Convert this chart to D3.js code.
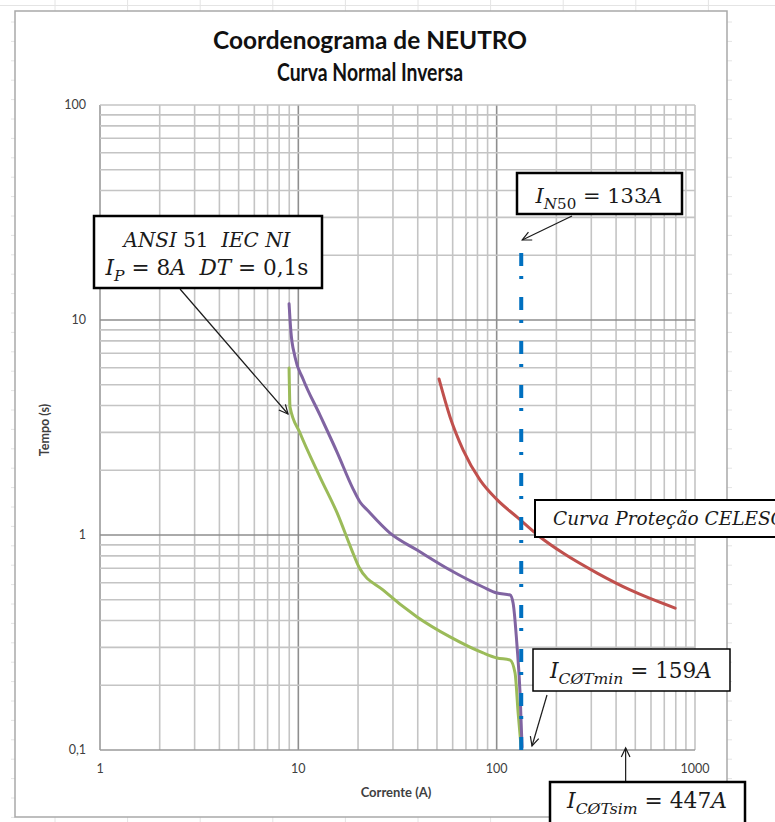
<!DOCTYPE html>
<html>
<head>
<meta charset="utf-8">
<script src="https://cdn.jsdelivr.net/npm/d3@7"></script>
<style>
  html, body { margin: 0; padding: 0; background: #fff; }
  svg { display: block; }
</style>
</head>
<body>
<script>
// ---- Axis ticks -------------------------------------------------------
const currentTicks = [1, 10, 100, 1000];
const currentTickLabels = ["1", "10", "100", "1000"];
const timeTicks = [0.1, 1, 10, 100];
const timeTickLabels = ["0,1", "1", "10", "100"];

// ---- Neutral relay, ANSI 51 IEC NI (upper curve) ----------------------
const relayUpperCurrent = [8.98, 9.16, 9.62, 10.56, 12.86, 15.67, 18.87, 20.5, 22.2, 29.0, 39.7, 58.2, 85.4, 100.4, 116.9, 121, 126.8, 131.2, 134.3];
const relayUpperTime    = [11.9, 8.98, 6.73, 5.32, 3.61, 2.43, 1.64, 1.42, 1.31, 1.02, 0.851, 0.687, 0.573, 0.537, 0.526, 0.483, 0.301, 0.184, 0.103];

// ---- Neutral relay, ANSI 51 IEC NI (lower curve) ----------------------
const relayLowerCurrent = [8.98, 9.08, 10.2, 12.86, 15.67, 18.6, 20.2, 26.7, 39.7, 58.2, 85.4, 100.4, 116.9, 123.8, 128.3, 132.8];
const relayLowerTime    = [5.98, 3.94, 2.98, 1.86, 1.27, 0.851, 0.710, 0.555, 0.416, 0.336, 0.283, 0.268, 0.262, 0.228, 0.149, 0.103];

// ---- Utility (CELESC) protection curve --------------------------------
const celescCurrent = [51.2, 58.2, 67.7, 82.5, 100.4, 126.8, 165.5, 216, 321, 471, 794];
const celescTime    = [5.32, 3.54, 2.49, 1.80, 1.46, 1.21, 0.979, 0.824, 0.665, 0.555, 0.457];

// ---- Neutral instantaneous pickup and fault levels --------------------
const neutralPickup = 133;              // A
const neutralPickupSpan = [20.5, 0.09]; // s, extent of the vertical marker
const faultMinCurrent = 159;            // A
const faultSymCurrent = 447;            // A

// ---- Layout ------------------------------------------------------------
const W = 775, H = 822;
const plot = { left: 100, right: 695, top: 105, bottom: 750 };

const svg = d3.select("body").append("svg")
  .attr("width", W).attr("height", H)
  .attr("viewBox", `0 0 ${W} ${H}`);

svg.append("rect").attr("width", W).attr("height", H).attr("fill", "#fff");

// faint worksheet cell lines around the chart object
const sheet = svg.append("g").attr("stroke", "#e4e4e4").attr("stroke-width", 1);
sheet.append("line").attr("x1", 0).attr("x2", W).attr("y1", 5.5).attr("y2", 5.5);
d3.range(55, W, 72.6).forEach(x => {
  sheet.append("line").attr("x1", x).attr("x2", x).attr("y1", 0).attr("y2", 11);
  sheet.append("line").attr("x1", x).attr("x2", x).attr("y1", 817).attr("y2", 822);
});
d3.range(22, H, 19.4).forEach(y => {
  sheet.append("line").attr("x1", 11).attr("x2", 15).attr("y1", y).attr("y2", y);
  sheet.append("line").attr("x1", 727).attr("x2", 732).attr("y1", y).attr("y2", y);
});

// chart frame
svg.append("rect")
  .attr("x", 15).attr("y", 11).attr("width", 712).attr("height", 806)
  .attr("fill", "#fff").attr("stroke", "#a9a9a9").attr("stroke-width", 1.5);

// ---- Scales ------------------------------------------------------------
const x = d3.scaleLog().domain([1, 1000]).range([plot.left, plot.right]);
const y = d3.scaleLog().domain([0.1, 100]).range([plot.bottom, plot.top]);

// ---- Grid --------------------------------------------------------------
const xGridValues = [];
[1, 10, 100].forEach(d => d3.range(1, 10).forEach(m => xGridValues.push(d * m)));
xGridValues.push(1000);
const yGridValues = [];
[0.1, 1, 10].forEach(d => d3.range(1, 10).forEach(m => yGridValues.push(+(d * m).toPrecision(3))));
yGridValues.push(100);

const isDecade = v => Math.abs(Math.log10(v) - Math.round(Math.log10(v))) < 1e-9;

const grid = svg.append("g").attr("stroke-width", 1.6).attr("fill", "none");
grid.selectAll(".gx").data(xGridValues).join("line")
  .attr("x1", d => x(d)).attr("x2", d => x(d))
  .attr("y1", plot.top).attr("y2", plot.bottom)
  .attr("stroke", d => (isDecade(d) && d > 1 && d < 1000) ? "#8e8e8e" : (d === 1 ? "#9a9a9a" : "#c4c4c4"));
grid.selectAll(".gy").data(yGridValues).join("line")
  .attr("y1", d => y(d)).attr("y2", d => y(d))
  .attr("x1", plot.left).attr("x2", plot.right)
  .attr("stroke", d => (isDecade(d) && d > 0.1 && d < 100) ? "#8e8e8e" : (d === 0.1 ? "#9a9a9a" : "#c4c4c4"));

// ---- Tick labels -------------------------------------------------------
const tickFont = "Lato, 'Open Sans', sans-serif";
svg.append("g").selectAll("text").data(timeTicks).join("text")
  .attr("x", 86).attr("y", d => y(d)).attr("dy", "0.35em")
  .attr("text-anchor", "end")
  .attr("font-family", tickFont).attr("font-size", 12.5).attr("fill", "#404040")
  .text((d, i) => timeTickLabels[i]);
svg.append("g").selectAll("text").data(currentTicks).join("text")
  .attr("x", d => x(d)).attr("y", 769).attr("dy", "0.35em")
  .attr("text-anchor", "middle")
  .attr("font-family", tickFont).attr("font-size", 12.5).attr("fill", "#404040")
  .text((d, i) => currentTickLabels[i]);

// axis titles
svg.append("text")
  .attr("x", 396).attr("y", 792).attr("dy", "0.35em").attr("text-anchor", "middle")
  .attr("font-family", tickFont).attr("font-size", 13).attr("font-weight", "bold").attr("fill", "#404040")
  .text("Corrente (A)");
svg.append("text")
  .attr("transform", "translate(45,430) rotate(-90)")
  .attr("dy", "0.35em").attr("text-anchor", "middle")
  .attr("font-family", tickFont).attr("font-size", 12.5).attr("font-weight", "bold").attr("fill", "#404040")
  .text("Tempo (s)");

// chart title
const titleFont = "Lato, 'Open Sans', sans-serif";
svg.append("text")
  .attr("x", 370).attr("y", 49).attr("text-anchor", "middle")
  .attr("font-family", titleFont).attr("font-size", 24).attr("font-weight", "bold").attr("fill", "#111")
  .attr("textLength", 314).attr("lengthAdjust", "spacingAndGlyphs")
  .text("Coordenograma de NEUTRO");
svg.append("text")
  .attr("x", 370).attr("y", 81).attr("text-anchor", "middle")
  .attr("font-family", titleFont).attr("font-size", 24).attr("font-weight", "bold").attr("fill", "#111")
  .attr("textLength", 186).attr("lengthAdjust", "spacingAndGlyphs")
  .text("Curva Normal Inversa");

// ---- Curves ------------------------------------------------------------
const zip = (a, b) => a.map((v, i) => [v, b[i]]);
const line = d3.line()
  .x(d => x(d[0])).y(d => y(d[1]))
  .curve(d3.curveMonotoneX);

const curves = svg.append("g").attr("fill", "none")
  .attr("stroke-width", 3).attr("stroke-linecap", "round").attr("stroke-linejoin", "round");
curves.append("path").attr("d", line(zip(celescCurrent, celescTime))).attr("stroke", "#C0504D");
curves.append("path").attr("d", line(zip(relayLowerCurrent, relayLowerTime))).attr("stroke", "#9BBB59");
curves.append("path").attr("d", line(zip(relayUpperCurrent, relayUpperTime))).attr("stroke", "#8064A2");

// neutral pickup marker
svg.append("line")
  .attr("x1", x(neutralPickup)).attr("x2", x(neutralPickup))
  .attr("y1", y(neutralPickupSpan[0])).attr("y2", y(neutralPickupSpan[1]))
  .attr("stroke", "#0070C0").attr("stroke-width", 4)
  .attr("stroke-dasharray", "13,10,3,18");

// ---- Annotations -------------------------------------------------------
const mathFont = "'DejaVu Serif', 'Liberation Serif', serif";

// segments: [text, kind]  kind: i = italic, r = upright, si = italic subscript, sr = upright subscript
function buildMath(parent, segs, fs, baseline) {
  const t = parent.append("text")
    .attr("font-family", mathFont).attr("font-size", fs).attr("fill", "#1a1a1a")
    .attr("y", baseline).attr("x", 0)
    .style("white-space", "pre");
  let shifted = false;
  segs.forEach(([s, k]) => {
    const sub = k === "si" || k === "sr";
    const ts = t.append("tspan").text(s)
      .attr("font-style", (k === "i" || k === "si") ? "italic" : "normal")
      .attr("font-size", sub ? fs * 0.72 : fs);
    if (sub && !shifted) { ts.attr("dy", fs * 0.28); shifted = true; }
    if (!sub && shifted) { ts.attr("dy", -fs * 0.28); shifted = false; }
  });
  return t;
}

function placeMath(parent, segs, targetWidth, cx, baseline, startX) {
  const probeSize = 20;
  let t = buildMath(parent, segs, probeSize, baseline);
  const w0 = t.node().getComputedTextLength();
  t.remove();
  t = buildMath(parent, segs, probeSize * targetWidth / w0, baseline);
  const w = t.node().getComputedTextLength();
  t.attr("x", startX !== undefined ? startX : cx - w / 2);
  return t;
}

function box(xp, yp, w, h, sw) {
  svg.append("rect").attr("x", xp).attr("y", yp).attr("width", w).attr("height", h)
    .attr("fill", "#fff").attr("stroke", "#000").attr("stroke-width", sw);
}

function arrow(x1, y1, x2, y2) {
  const g = svg.append("g").attr("stroke", "#1a1a1a").attr("stroke-width", 1.2).attr("fill", "none");
  g.append("line").attr("x1", x1).attr("y1", y1).attr("x2", x2).attr("y2", y2);
  const a = Math.atan2(y2 - y1, x2 - x1), L = 10, s = 0.45;
  const p1 = [x2 - L * Math.cos(a - s), y2 - L * Math.sin(a - s)];
  const p2 = [x2 - L * Math.cos(a + s), y2 - L * Math.sin(a + s)];
  g.append("path").attr("d", `M${p1[0]},${p1[1]}L${x2},${y2}L${p2[0]},${p2[1]}`);
}

// relay setting label
arrow(180, 289, 288, 414);
box(94, 216, 228, 72, 2.5);
placeMath(svg, [["ANSI", "i"], [" 51 ", "r"], [" IEC NI", "i"]], 167, 207, 247);
placeMath(svg, [["I", "i"], ["P", "si"], [" = 8", "r"], ["A", "i"], ["  DT", "i"], [" = 0,1s", "r"]], 203, 207, 275);

// neutral pickup label
arrow(572, 216, x(neutralPickup) + 1, 240);
box(517, 173, 165, 41, 2.5);
placeMath(svg, [["I", "i"], ["N", "si"], ["50", "sr"], [" = " + neutralPickup, "r"], ["A", "i"]], 127, 599, 203);

// utility curve label (runs past the right edge of the sheet view)
box(535, 500, 260, 37, 2);
placeMath(svg, [["Curva Proteção CELESC", "i"]], 232, 0, 525, 553);

// minimum fault current label
arrow(547, 695, 532, 746);
box(533, 649, 197, 42, 1.5);
placeMath(svg, [["I", "i"], ["CØTmin", "si"], [" = " + faultMinCurrent, "r"], ["A", "i"]], 162, 631, 678);

// symmetrical fault current label
arrow(x(faultSymCurrent), 782, x(faultSymCurrent), 748);
box(550, 782, 195, 60, 2.5);
placeMath(svg, [["I", "i"], ["CØTsim", "si"], [" = " + faultSymCurrent, "r"], ["A", "i"]], 160, 647, 808);
</script>
</body>
</html>
